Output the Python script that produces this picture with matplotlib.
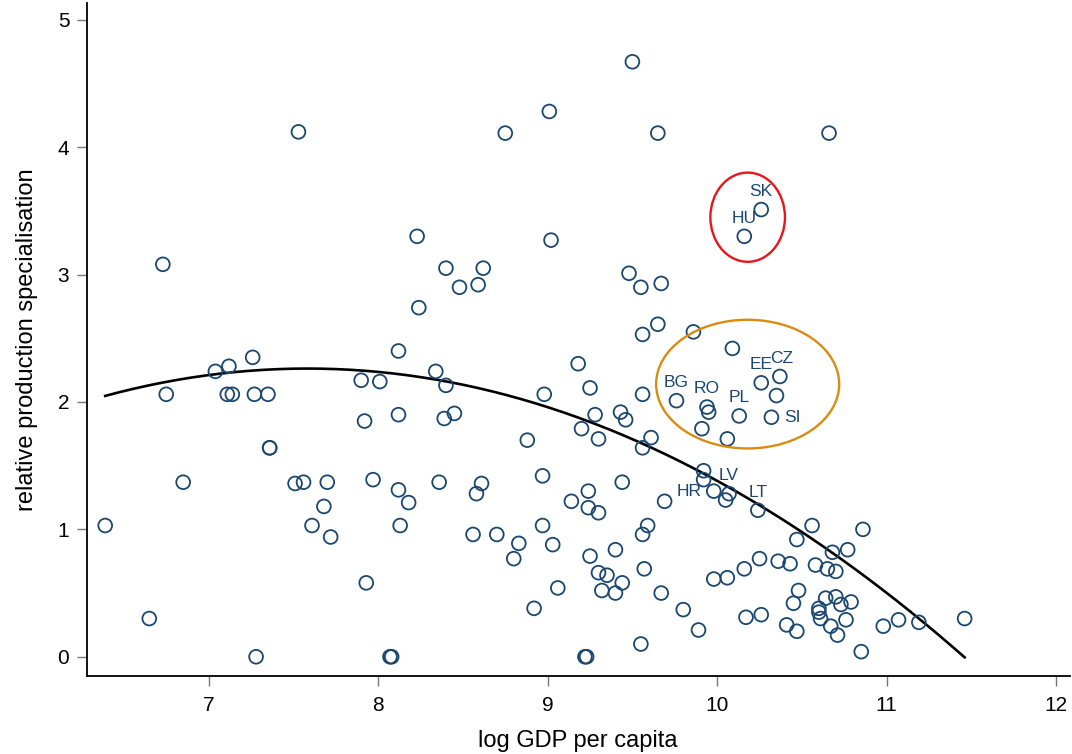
import numpy as np
import matplotlib
matplotlib.use("Agg")
import matplotlib.pyplot as plt
from matplotlib.patches import Ellipse

plt.rcParams['font.family'] = ['Liberation Sans', 'DejaVu Sans']

# ---- data: unlabeled countries (log GDP per capita, relative production specialisation)
gdp_other = [
    6.39, 6.65, 6.73, 6.75, 6.85, 7.04, 7.12, 7.11, 7.14, 7.26, 7.27, 7.28, 7.35, 7.36, 7.36, 7.51, 7.53,
    7.56, 7.61, 7.68, 7.70, 7.72, 7.90, 7.92, 7.93, 7.97, 8.01, 8.07, 8.08, 8.12, 8.12, 8.12, 8.13, 8.18, 8.23, 8.24,
    8.34, 8.36, 8.40, 8.39, 8.40, 8.45, 8.48, 8.56, 8.58, 8.59, 8.61, 8.62, 8.70, 8.75, 8.80, 8.83, 8.88, 8.92,
    8.97, 8.97, 8.98, 9.01, 9.02, 9.03, 9.06,
    9.14, 9.18, 9.20, 9.22, 9.23, 9.24, 9.24, 9.25, 9.25, 9.28, 9.30, 9.30, 9.30, 9.32, 9.35, 9.40, 9.40, 9.43,
    9.44, 9.44, 9.46, 9.48, 9.50, 9.55, 9.55, 9.56, 9.56, 9.56, 9.56, 9.57, 9.59, 9.61, 9.65, 9.65, 9.67, 9.67,
    9.69, 9.80, 9.86, 9.89,
    9.91, 9.92, 9.92, 9.95, 9.98, 10.05, 10.06, 10.06, 10.09, 10.16, 10.17, 10.25, 10.26, 10.35, 10.36,
    10.41, 10.43, 10.45, 10.47, 10.47, 10.48, 10.56, 10.58, 10.60, 10.60, 10.61, 10.64, 10.65, 10.66, 10.67,
    10.68, 10.70, 10.70, 10.71, 10.73, 10.76, 10.77, 10.79, 10.85, 10.86, 10.98, 11.07, 11.19, 11.46,
]
spec_other = [
    1.03, 0.30, 3.08, 2.06, 1.37, 2.24, 2.28, 2.06, 2.06, 2.35, 2.06, 0.00, 2.06, 1.64, 1.64, 1.36, 4.12,
    1.37, 1.03, 1.18, 1.37, 0.94, 2.17, 1.85, 0.58, 1.39, 2.16, 0.00, 0.00, 2.40, 1.90, 1.31, 1.03, 1.21, 3.30, 2.74,
    2.24, 1.37, 2.13, 1.87, 3.05, 1.91, 2.90, 0.96, 1.28, 2.92, 1.36, 3.05, 0.96, 4.11, 0.77, 0.89, 1.70, 0.38,
    1.42, 1.03, 2.06, 4.28, 3.27, 0.88, 0.54,
    1.22, 2.30, 1.79, 0.00, 0.00, 1.30, 1.17, 2.11, 0.79, 1.90, 1.71, 1.13, 0.66, 0.52, 0.64, 0.84, 0.50, 1.92,
    1.37, 0.58, 1.86, 3.01, 4.67, 2.90, 0.10, 2.53, 1.64, 0.96, 2.06, 0.69, 1.03, 1.72, 2.61, 4.11, 2.93, 0.50,
    1.22, 0.37, 2.55, 0.21,
    1.79, 1.46, 1.39, 1.92, 0.61, 1.23, 0.62, 1.71, 2.42, 0.69, 0.31, 0.77, 0.33, 2.05, 0.75,
    0.25, 0.73, 0.42, 0.92, 0.20, 0.52, 1.03, 0.72, 0.38, 0.35, 0.30, 0.46, 0.69, 4.11, 0.24,
    0.82, 0.67, 0.47, 0.17, 0.41, 0.29, 0.84, 0.43, 0.04, 1.00, 0.24, 0.29, 0.27, 0.30,
]

# ---- data: labeled CEE countries
cee_names = ["SK", "HU", "BG", "RO", "PL", "EE", "CZ", "SI", "LV", "HR", "LT"]
cee_gdp   = [10.26, 10.16, 9.76, 9.94, 10.13, 10.26, 10.37, 10.32, 10.07, 9.98, 10.24]
cee_spec  = [3.51, 3.30, 2.01, 1.96, 1.89, 2.15, 2.20, 1.88, 1.28, 1.30, 1.15]
cee_pos   = ["top", "top", "top", "top", "top", "top", "top", "right", "top", "left", "top"]

# ---- quadratic fit: y = c2*x^2 + c1*x + c0
fit_coef = [-0.1508, 2.287, -6.409]

# ---- highlight ellipses (center x, center y, width, height) in data units
red_ellipse = (10.18, 3.45, 0.44, 0.70)
orange_ellipse = (10.18, 2.14, 1.08, 1.01)

x_ticks = [7, 8, 9, 10, 11, 12]
y_ticks = [0, 1, 2, 3, 4, 5]

navy = "#1a476f"

fig = plt.figure(figsize=(10.72, 7.54), dpi=100)
ax = fig.add_axes([0.0809, 0.1038, 0.917, 0.892])

all_x = np.array(gdp_other + cee_gdp)
all_y = np.array(spec_other + cee_spec)

ax.scatter(all_x, all_y, s=98, facecolors="none", edgecolors=navy, linewidths=1.3, zorder=3)

xf = np.linspace(all_x.min(), all_x.max(), 300)
ax.plot(xf, np.polyval(fit_coef, xf), color="black", lw=1.9, zorder=2)

offsets = {"top": (0, 13, "center", "center"),
           "right": (9.5, 0, "left", "center"),
           "left": (-9, 0, "right", "center")}
for name, gx, sy, pos in zip(cee_names, cee_gdp, cee_spec, cee_pos):
    dx, dy, ha, va = offsets[pos]
    if name == "CZ":
        dx += 1.0
    ax.annotate(name, (gx, sy), xytext=(dx, dy), textcoords="offset points",
                ha=ha, va=va, fontsize=12.5, color=navy, zorder=4)

for (cx, cy, w, h), col in [(red_ellipse, "#e8161b"), (orange_ellipse, "#d98b12")]:
    ax.add_patch(Ellipse((cx, cy), w, h, fill=False, edgecolor=col, lw=1.7, zorder=5))

ax.set_xlim(6.281, 12.08)
ax.set_ylim(-0.149, 5.13)
ax.set_xticks(x_ticks)
ax.set_yticks(y_ticks)
ax.spines["top"].set_visible(False)
ax.spines["right"].set_visible(False)
for s in ("left", "bottom"):
    ax.spines[s].set_linewidth(1.3)
ax.tick_params(axis="both", direction="out", length=7.5, width=1.0, color="#777777",
               labelsize=15, pad=5)
ax.tick_params(axis="x", pad=7)
ax.set_xlabel("log GDP per capita", fontsize=17, labelpad=11)
ax.set_ylabel("relative production specialisation", fontsize=17, labelpad=14)

fig.savefig("out.png", dpi=100)
